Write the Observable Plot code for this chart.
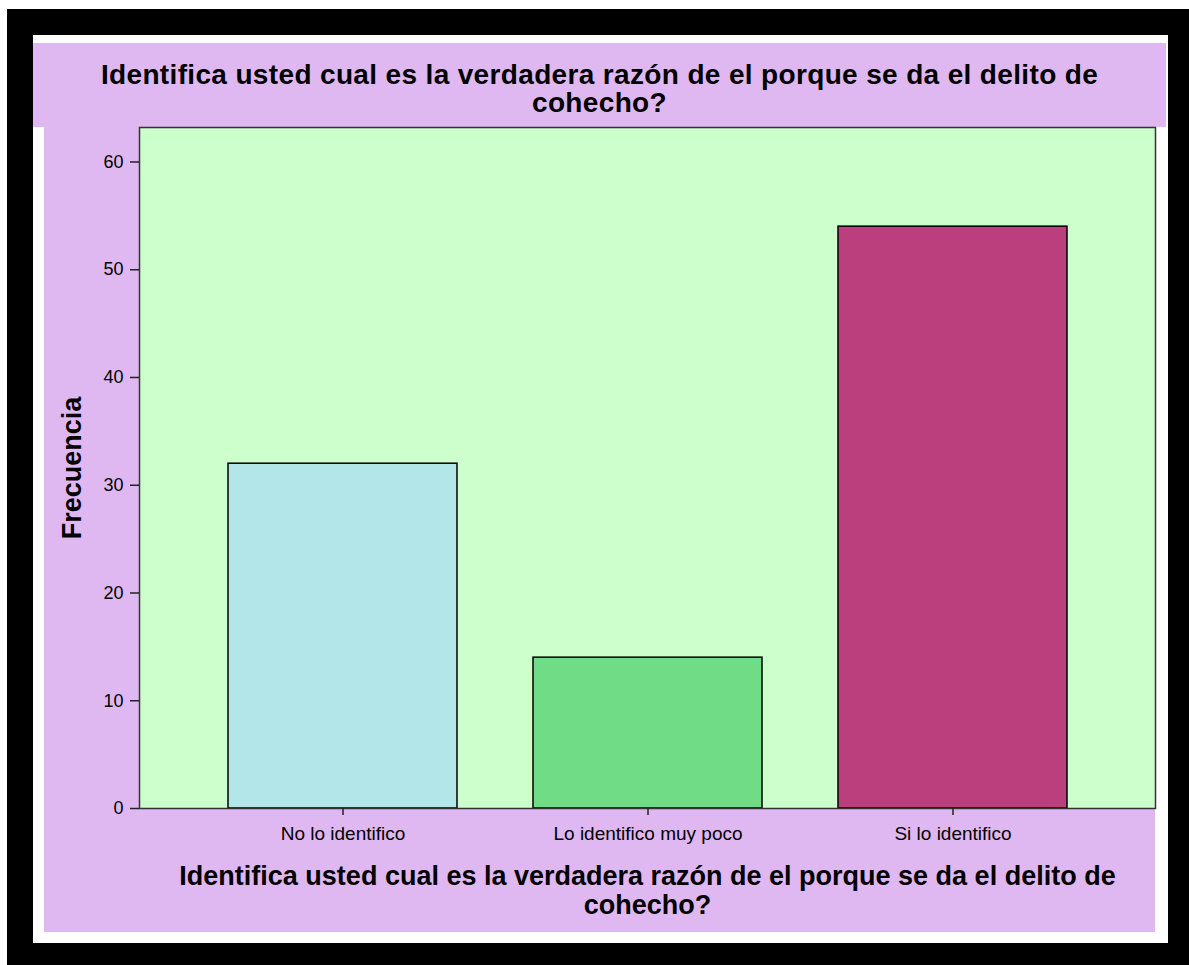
<!DOCTYPE html>
<html>
<head>
<meta charset="utf-8">
<script src="https://cdn.jsdelivr.net/npm/d3@7"></script>
<script src="https://cdn.jsdelivr.net/npm/@observablehq/plot@0.6"></script>
<style>
  html, body { margin: 0; padding: 0; background: #ffffff; }
  body { width: 1189px; height: 965px; position: relative; overflow: hidden; font-family: "Liberation Sans", Arial, sans-serif; }
  .abs { position: absolute; }
  #frame { left: 7px; top: 9px; width: 1182px; height: 956px; background: #000; }
  #inner { left: 33px; top: 35px; width: 1135px; height: 908px; background: #fff; }
  #titleband { left: 33px; top: 43px; width: 1133px; height: 84px; background: #dfb8f1; }
  #title { left: 33px; top: 61px; width: 1133px; text-align: center; font-weight: bold; font-size: 28px; line-height: 28px; letter-spacing: 0.35px; color: #000; }
  #plotband { left: 44px; top: 127px; width: 1111px; height: 805px; background: #dfb8f1; }
  #chart { left: 44px; top: 126px; }
</style>
</head>
<body>
<div id="frame" class="abs"></div>
<div id="inner" class="abs"></div>
<div id="titleband" class="abs"></div>
<div id="title" class="abs">Identifica usted cual es la verdadera razón de el porque se da el delito de<br>cohecho?</div>
<div id="plotband" class="abs"></div>
<div id="chart" class="abs"></div>
<script>
const categories = ["No lo identifico", "Lo identifico muy poco", "Si lo identifico"];
const frequencies = [32, 14, 54];
const barColors = ["#b3e6e8", "#70dc86", "#bb3f7c"];
const yTicks = [0, 10, 20, 30, 40, 50, 60];
const yLabel = "Frecuencia";
const xLabel = "Identifica usted cual es la verdadera razón de el porque se da el delito de\ncohecho?";

const data = categories.map((c, i) => ({category: c, value: frequencies[i], color: barColors[i]}));

const chart = Plot.plot({
  width: 1113,
  height: 806,
  marginLeft: 95,
  marginRight: 2,
  marginTop: 1,
  marginBottom: 124,
  style: {fontFamily: "'Liberation Sans', Arial, sans-serif", fontSize: "18px", background: "transparent", color: "#000"},
  x: {domain: categories, paddingInner: 0.25, paddingOuter: 0.29, label: null},
  y: {domain: [0, 63.2], label: null},
  marks: [
    Plot.frame({fill: "#ccffcc"}),
    Plot.barY(data, {x: "category", y: "value", fill: "color", stroke: "#000", strokeWidth: 1.5}),
    Plot.frame({stroke: "#333", strokeWidth: 1.5}),
    Plot.axisY({ticks: yTicks, tickSize: 9, tickPadding: 7, tickFormat: d => String(d), label: null, stroke: "#222", strokeWidth: 1.5, fontSize: 18}),
    Plot.axisX({tickSize: 7, tickPadding: 11, label: null, stroke: "#222", strokeWidth: 1.5, fontSize: 19}),
    Plot.text([xLabel], {frameAnchor: "bottom", lineAnchor: "top", dy: 57, fontWeight: "bold", fontSize: 27, lineHeight: 1.04, text: d => d, fill: "#000"}),
    Plot.text([yLabel], {frameAnchor: "left", textAnchor: "middle", dx: -67, rotate: -90, fontWeight: "bold", fontSize: 27, text: d => d, fill: "#000"})
  ]
});
document.getElementById("chart").appendChild(chart);
</script>
</body>
</html>
